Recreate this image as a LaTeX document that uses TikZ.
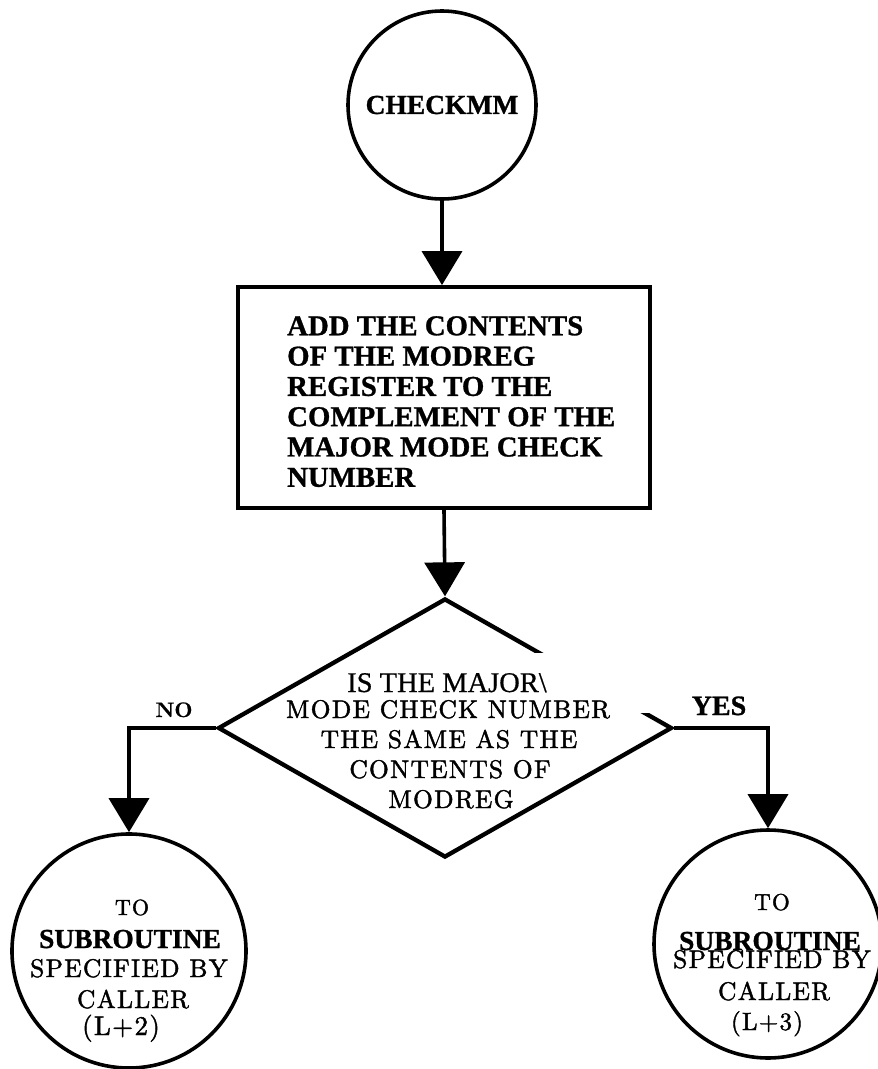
\documentclass[tikz,border=0pt]{standalone}
\usepackage{fontspec}
\usetikzlibrary{arrows.meta,shapes.geometric}
\newfontfamily\timesfamily[FakeBold=0.6]{Liberation Serif}
\newfontfamily\timesheavy[FakeBold=1]{Liberation Serif Bold}
\newfontfamily\pressfamily[LetterSpace=5,FakeBold=1.6]{lmroman10-regular.otf}
\newfontfamily\pressbold[FakeBold=0.6]{lmroman10-bold.otf}
\begin{document}
\begin{tikzpicture}[x=1pt,y=-1pt,
  arrowline/.style={line width=3.6pt,-{Triangle[length=34pt,width=40pt]}},
  txt/.style={inner sep=0pt,anchor=base},
  press/.style={txt,font=\pressfamily\fontsize{#1}{#1}\selectfont},
  serifbold/.style={txt,font=\timesheavy\fontsize{#1}{#1}\selectfont},
  serifreg/.style={txt,font=\timesfamily\fontsize{#1}{#1}\selectfont},
  terminal/.style={circle,draw,line width=3.6pt,inner sep=0pt,minimum size=#1}]
\useasboundingbox (0,0) rectangle (878,1069);

% entry point
\node[terminal=188pt,font=\timesheavy\fontsize{27.5}{27.5}\selectfont] (start) at (442,105) {CHECKMM};

% processing step
\node[draw,line width=3.8pt,inner sep=0pt,minimum width=412pt,minimum height=221pt] (proc) at (444,397.5) {};
\node[inner sep=0pt,anchor=north west,align=left,
      font=\timesheavy\fontsize{28.8}{30.3}\selectfont] (proctext) at (287,316)
  {ADD THE CONTENTS\\OF THE MODREG\\REGISTER TO THE\\COMPLEMENT OF THE\\MAJOR MODE CHECK\\NUMBER};

% decision
\node[diamond,draw,line width=4.3pt,inner sep=0pt,minimum width=454pt,minimum height=259pt] (dec) at (445,728) {};
\fill[white] (355,653) rectangle (653,713);
\node[serifreg=28.5] (q1) at (447,692) {IS THE MAJOR\textbackslash};
\node[press=25.5] (q2) at (448,718) {MODE CHECK NUMBER};
\node[press=25.5] (q3) at (449,748) {THE SAME AS THE};
\node[press=25.5] (q4) at (450,778) {CONTENTS OF};
\node[press=25.5] (q5) at (451,808) {MODREG};

% exits
\node[terminal=234pt] (nocirc) at (129,951) {};
\node[terminal=228pt] (yescirc) at (768,944) {};

\node[press=22] (n1) at (132,915) {TO};
\node[serifbold=27.5] (n2) at (130,948) {SUBROUTINE};
\node[press=25.5] (n3) at (129,977) {SPECIFIED BY};
\node[press=25.5] (n4) at (133,1008) {CALLER};
\node[press=27] (n5) at (121,1035) {(L+2)};

\node[press=23] (y1) at (772,910) {TO};
\node[serifbold=27.5] (y2) at (770,950) {SUBROUTINE};
\node[press=25.5] (y3) at (772,968) {SPECIFIED BY};
\node[press=25.5] (y4) at (774,1000) {CALLER};
\node[press=25] (y5) at (767,1030) {(L+3)};

% branch labels
\node[txt,font=\pressbold\fontsize{21}{21}\selectfont] (nolabel) at (174,717) {NO};
\node[serifbold=28] (yeslabel) at (719,715) {YES};

% connectors
\draw[arrowline] (start.south) -- (start.south |- proc.north);
\draw[arrowline] (proc.south) -- (dec.north);
\draw[arrowline] (dec.west) -| (nocirc.north);
\draw[arrowline] (dec.east) -| (yescirc.north);
\end{tikzpicture}
\end{document}
